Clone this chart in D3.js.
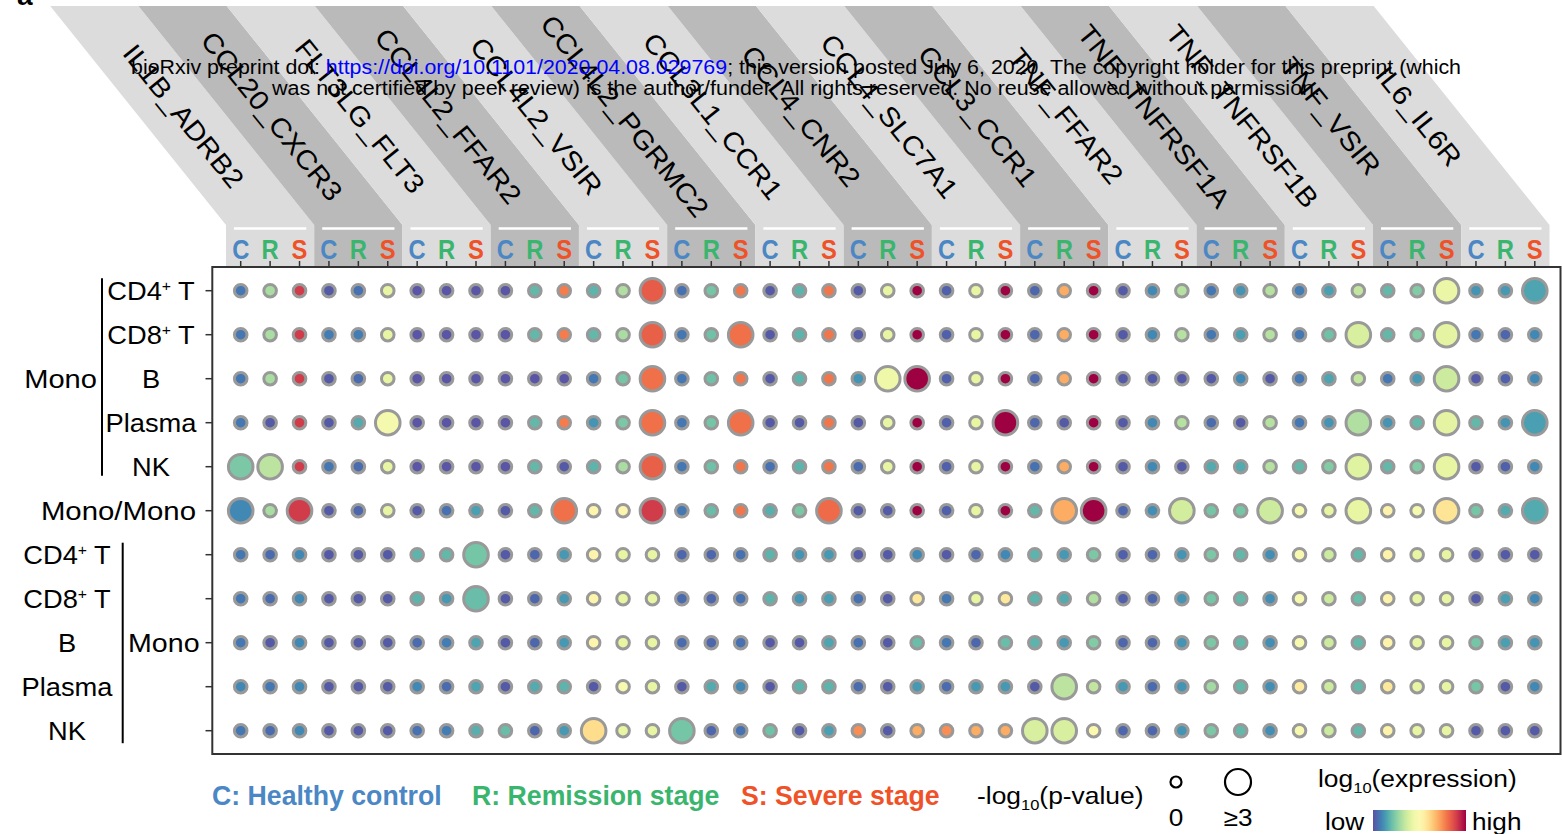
<!DOCTYPE html>
<html>
<head>
<meta charset="utf-8">
<script src="https://cdn.jsdelivr.net/npm/d3@7"></script>
<style>
  body { margin: 0; background: #fff; }
  svg { display: block; font-family: Arial, "Liberation Sans", sans-serif; }
</style>
</head>
<body>
<svg id="chart"></svg>
<script>
const W = 1562, H = 834;

// ligand_receptor pairs (one header band each)
const pairs = ['IL1B_ADRB2','CCL20_CXCR3','FLT3LG_FLT3','CCL4L2_FFAR2','CCL4L2_VSIR',
  'CCL4L2_PGRMC2','CCL3L1_CCR1','CCL4_CNR2','CCL4_SLC7A1','CCL3_CCR1',
  'TNF_FFAR2','TNF_TNFRSF1A','TNF_TNFRSF1B','TNF_VSIR','IL6_IL6R'];
const conds = ['C','R','S'];
const condColors = {C:'#4a87c4', R:'#3ab56e', S:'#ef5228'};

// rows: sender -> receiver
const rowKeys = ['Mono>CD4T','Mono>CD8T','Mono>B','Mono>Plasma','Mono>NK','Mono>Mono',
  'CD4T>Mono','CD8T>Mono','B>Mono','Plasma>Mono','NK>Mono'];
const cellNames = ['CD4|T','CD8|T','B','Plasma','NK'];

// relative log10(expression), 0 = low, 1 = high (45 columns = 15 pairs x C,R,S)
const expr = [
 [0.07,0.3,0.9, 0.02,0.06,0.42, 0.01,0.01,0.01, 0.01,0.19,0.78, 0.18,0.31,0.84, 0.06,0.22,0.79, 0.02,0.18,0.79, 0.02,0.42,1.0, 0.03,0.42,1.0, 0.04,0.7,1.0, 0.02,0.1,0.32, 0.07,0.12,0.32, 0.08,0.14,0.34, 0.19,0.24,0.43, 0.12,0.13,0.15],
 [0.07,0.3,0.9, 0.08,0.08,0.42, 0.01,0.01,0.01, 0.01,0.19,0.78, 0.19,0.3,0.83, 0.07,0.21,0.8, 0.02,0.18,0.79, 0.02,0.42,1.0, 0.03,0.42,1.0, 0.04,0.7,1.0, 0.02,0.1,0.32, 0.07,0.14,0.32, 0.07,0.21,0.38, 0.19,0.24,0.41, 0.07,0.04,0.1],
 [0.07,0.3,0.9, 0.02,0.05,0.42, 0.01,0.01,0.01, 0.01,0.01,0.01, 0.07,0.22,0.8, 0.07,0.21,0.79, 0.02,0.18,0.79, 0.12,0.44,1.0, 0.03,0.42,1.0, 0.04,0.7,1.0, 0.02,0.02,0.02, 0.02,0.1,0.02, 0.07,0.15,0.34, 0.07,0.13,0.36, 0.02,0.03,0.1],
 [0.07,0.02,0.9, 0.02,0.16,0.46, 0.01,0.01,0.01, 0.01,0.19,0.78, 0.12,0.23,0.8, 0.07,0.22,0.8, 0.02,0.02,0.79, 0.02,0.42,1.0, 0.03,0.42,1.0, 0.04,0.02,1.0, 0.02,0.1,0.32, 0.05,0.02,0.32, 0.07,0.12,0.31, 0.12,0.19,0.41, 0.19,0.12,0.14],
 [0.23,0.33,0.9, 0.07,0.05,0.42, 0.01,0.01,0.01, 0.01,0.19,0.02, 0.18,0.3,0.83, 0.07,0.21,0.79, 0.06,0.18,0.79, 0.05,0.42,1.0, 0.03,0.42,1.0, 0.06,0.7,1.0, 0.02,0.1,0.02, 0.16,0.16,0.32, 0.19,0.24,0.4, 0.19,0.24,0.42, 0.02,0.03,0.1],
 [0.1,0.3,0.9, 0.02,0.04,0.42, 0.02,0.06,0.14, 0.02,0.19,0.8, 0.52,0.52,0.9, 0.07,0.2,0.79, 0.17,0.23,0.81, 0.02,0.02,1.0, 0.03,0.42,1.0, 0.19,0.7,1.0, 0.04,0.11,0.37, 0.22,0.22,0.36, 0.47,0.42,0.42, 0.53,0.47,0.58, 0.22,0.16,0.16],
 [0.07,0.05,0.1, 0.02,0.02,0.02, 0.18,0.19,0.22, 0.02,0.04,0.13, 0.52,0.42,0.42, 0.04,0.04,0.06, 0.18,0.12,0.13, 0.02,0.02,0.1, 0.02,0.04,0.1, 0.18,0.13,0.23, 0.03,0.04,0.12, 0.23,0.19,0.11, 0.48,0.36,0.19, 0.53,0.42,0.42, 0.02,0.02,0.02],
 [0.07,0.05,0.1, 0.02,0.02,0.02, 0.18,0.13,0.2, 0.02,0.04,0.13, 0.52,0.42,0.42, 0.05,0.04,0.06, 0.18,0.12,0.14, 0.06,0.02,0.57, 0.07,0.42,0.57, 0.18,0.16,0.31, 0.03,0.04,0.12, 0.22,0.19,0.11, 0.48,0.36,0.2, 0.53,0.42,0.42, 0.02,0.14,0.1],
 [0.07,0.02,0.1, 0.02,0.02,0.02, 0.05,0.08,0.15, 0.02,0.04,0.13, 0.52,0.42,0.42, 0.05,0.04,0.06, 0.02,0.02,0.15, 0.06,0.02,0.2, 0.07,0.04,0.2, 0.18,0.13,0.24, 0.04,0.04,0.12, 0.23,0.19,0.11, 0.48,0.36,0.19, 0.53,0.42,0.42, 0.22,0.14,0.12],
 [0.1,0.07,0.1, 0.02,0.02,0.02, 0.1,0.05,0.15, 0.02,0.16,0.18, 0.02,0.47,0.42, 0.02,0.16,0.1, 0.02,0.18,0.18, 0.05,0.02,0.13, 0.05,0.13,0.13, 0.02,0.33,0.34, 0.13,0.05,0.12, 0.29,0.19,0.11, 0.56,0.36,0.19, 0.57,0.42,0.42, 0.22,0.02,0.1],
 [0.07,0.05,0.1, 0.02,0.02,0.02, 0.06,0.08,0.17, 0.2,0.04,0.13, 0.6,0.42,0.42, 0.22,0.04,0.06, 0.21,0.02,0.14, 0.75,0.02,0.7, 0.75,0.7,0.7, 0.38,0.38,0.5, 0.04,0.04,0.12, 0.23,0.19,0.11, 0.48,0.36,0.19, 0.53,0.42,0.42, 0.02,0.02,0.02]
];

// -log10(p-value), capped at 3
const pval = [
 [0,0,0, 0,0,0, 0,0,0, 0,0,0, 0,0,3, 0,0,0, 0,0,0, 0,0,0, 0,0,0, 0,0,0, 0,0,0, 0,0,0, 0,0,0, 0,0,3, 0,0,3],
 [0,0,0, 0,0,0, 0,0,0, 0,0,0, 0,0,3, 0,0,3, 0,0,0, 0,0,0, 0,0,0, 0,0,0, 0,0,0, 0,0,0, 0,0,3, 0,0,3, 0,0,0],
 [0,0,0, 0,0,0, 0,0,0, 0,0,0, 0,0,3, 0,0,0, 0,0,0, 0,3,3, 0,0,0, 0,0,0, 0,0,0, 0,0,0, 0,0,0, 0,0,3, 0,0,0],
 [0,0,0, 0,0,3, 0,0,0, 0,0,0, 0,0,3, 0,0,3, 0,0,0, 0,0,0, 0,0,3, 0,0,0, 0,0,0, 0,0,0, 0,0,3, 0,0,3, 0,0,3],
 [3,3,0, 0,0,0, 0,0,0, 0,0,0, 0,0,3, 0,0,0, 0,0,0, 0,0,0, 0,0,0, 0,0,0, 0,0,0, 0,0,0, 0,0,3, 0,0,3, 0,0,0],
 [3,0,3, 0,0,0, 0,0,0, 0,0,3, 0,0,3, 0,0,0, 0,0,3, 0,0,0, 0,0,0, 0,3,3, 0,0,3, 0,0,3, 0,0,3, 0,0,3, 0,0,3],
 [0,0,0, 0,0,0, 0,0,3, 0,0,0, 0,0,0, 0,0,0, 0,0,0, 0,0,0, 0,0,0, 0,0,0, 0,0,0, 0,0,0, 0,0,0, 0,0,0, 0,0,0],
 [0,0,0, 0,0,0, 0,0,3, 0,0,0, 0,0,0, 0,0,0, 0,0,0, 0,0,0, 0,0,0, 0,0,0, 0,0,0, 0,0,0, 0,0,0, 0,0,0, 0,0,0],
 [0,0,0, 0,0,0, 0,0,0, 0,0,0, 0,0,0, 0,0,0, 0,0,0, 0,0,0, 0,0,0, 0,0,0, 0,0,0, 0,0,0, 0,0,0, 0,0,0, 0,0,0],
 [0,0,0, 0,0,0, 0,0,0, 0,0,0, 0,0,0, 0,0,0, 0,0,0, 0,0,0, 0,0,0, 0,3,0, 0,0,0, 0,0,0, 0,0,0, 0,0,0, 0,0,0],
 [0,0,0, 0,0,0, 0,0,0, 0,0,0, 3,0,0, 3,0,0, 0,0,0, 0,0,0, 0,0,0, 3,3,0, 0,0,0, 0,0,0, 0,0,0, 0,0,0, 0,0,0]
];

const legendConds = ['C: Healthy control','R: Remission stage','S: Severe stage'];

const svg = d3.select('#chart').attr('width', W).attr('height', H);

// scales
const cols = pairs.flatMap(p => conds.map(c => p + '|' + c));
const xGroup = d3.scaleBand().domain(pairs).range([226, 1549.5]);
const x = d3.scaleBand().domain(cols).range([226, 1549.5]);
const y = d3.scaleBand().domain(rowKeys).range([268.7, 752.7]);
const cx = c => x(c) + x.bandwidth() / 2;
const cy = r => y(r) + y.bandwidth() / 2;
const rScale = d3.scaleLinear().domain([0, 3]).range([6.3, 12.3]).clamp(true);
const color = v => d3.interpolateSpectral(1 - v);

// header bands
const bandTop = 6, slantEnd = 225, slant = 175.8, hb = 266;
const header = svg.append('g');
header.selectAll('path.band')
  .data(pairs)
  .join('path')
  .attr('class', 'band')
  .attr('fill', (d, i) => i % 2 ? '#bababa' : '#dcdcdc')
  .attr('d', d => {
    const x0 = xGroup(d), x1 = x0 + xGroup.bandwidth();
    return `M${x0 - slant},${bandTop}L${x1 - slant},${bandTop}L${x1},${slantEnd}L${x1},${hb}L${x0},${hb}L${x0},${slantEnd}Z`;
  });

header.selectAll('line.sep')
  .data(pairs)
  .join('line')
  .attr('x1', d => xGroup(d) + 8).attr('x2', d => xGroup(d) + xGroup.bandwidth() - 8)
  .attr('y1', 228.5).attr('y2', 228.5)
  .attr('stroke', '#fff').attr('stroke-width', 2.5);

const ang = Math.atan2(slantEnd - bandTop, slant) * 180 / Math.PI;
const labY = 116;
header.selectAll('text.pair')
  .data(pairs)
  .join('text')
  .attr('class', 'pair')
  .attr('text-anchor', 'middle')
  .attr('dominant-baseline', 'central')
  .attr('font-size', 27)
  .attr('fill', '#000')
  .attr('transform', d => {
    const xc = xGroup(d) + xGroup.bandwidth() / 2 - slant + slant * (labY - bandTop) / (slantEnd - bandTop);
    return `translate(${xc + 1},${labY}) rotate(${ang}) scale(1.09,1)`;
  })
  .text(d => d);

header.selectAll('text.cond')
  .data(cols)
  .join('text')
  .attr('class', 'cond')
  .attr('text-anchor', 'middle')
  .attr('font-size', 27)
  .attr('font-weight', 'bold')
  .attr('fill', d => condColors[d.split('|')[1]])
  .attr('transform', d => `translate(${cx(d)},259) scale(0.88,1)`)
  .text(d => d.split('|')[1]);

// frame and ticks
const plot = svg.append('g');
plot.selectAll('line.xt').data(cols).join('line')
  .attr('x1', cx).attr('x2', cx).attr('y1', 261).attr('y2', 267.5)
  .attr('stroke', '#333').attr('stroke-width', 1.5);
plot.selectAll('line.yt').data(rowKeys).join('line')
  .attr('y1', cy).attr('y2', cy).attr('x1', 205.5).attr('x2', 212)
  .attr('stroke', '#333').attr('stroke-width', 1.5);
plot.append('rect')
  .attr('x', 212.3).attr('y', 267).attr('width', 1560.5 - 212.3).attr('height', 754 - 267)
  .attr('fill', 'none').attr('stroke', '#333').attr('stroke-width', 2);

// dots
const cells = [];
rowKeys.forEach((r, i) => cols.forEach((c, j) => cells.push({r, c, e: expr[i][j], p: pval[i][j]})));
plot.selectAll('circle.dot')
  .data(cells)
  .join('circle')
  .attr('class', 'dot')
  .attr('cx', d => cx(d.c))
  .attr('cy', d => cy(d.r))
  .attr('r', d => rScale(d.p))
  .attr('fill', d => color(d.e))
  .attr('stroke', '#999')
  .attr('stroke-width', 3);

// row labels
const rl = svg.append('g').attr('font-size', 26).attr('fill', '#000');
function cellLabel(g, name, xx, yy, anchor, sx) {
  const t = g.append('text').attr('text-anchor', anchor)
    .attr('transform', `translate(${xx},${yy + 9}) scale(${sx || 1.08},1)`);
  const parts = name.split('|');
  if (parts.length === 2) {
    t.append('tspan').text(parts[0]);
    t.append('tspan').attr('font-size', 15).attr('dy', -9).text('+');
    t.append('tspan').attr('dy', 9).text(' ' + parts[1]);
  } else {
    t.text(name);
  }
}
cellNames.forEach((n, i) => cellLabel(rl, n, 151, cy(rowKeys[i]), 'middle', 1.05));
cellNames.forEach((n, i) => cellLabel(rl, n, 67, cy(rowKeys[i + 6]), 'middle', 1.05));
cellLabel(rl, 'Mono', 97, cy(rowKeys[2]), 'end', 1.12);
cellLabel(rl, 'Mono/Mono', 196, cy(rowKeys[5]), 'end', 1.13);
cellLabel(rl, 'Mono', 128, cy(rowKeys[8]), 'start', 1.1);
rl.append('line').attr('x1', 102).attr('x2', 102)
  .attr('y1', cy(rowKeys[0]) - 12.5).attr('y2', cy(rowKeys[4]) + 9)
  .attr('stroke', '#000').attr('stroke-width', 2);
rl.append('line').attr('x1', 122.7).attr('x2', 122.7)
  .attr('y1', cy(rowKeys[6]) - 12).attr('y2', cy(rowKeys[10]) + 12.5)
  .attr('stroke', '#000').attr('stroke-width', 2);

// legend: conditions
const lg = svg.append('g').attr('font-weight', 'bold').attr('font-size', 27.5);
const legX = [212, 472, 741];
legendConds.forEach((t, i) => {
  lg.append('text').attr('transform', `translate(${legX[i]},805) scale(0.97,1)`)
    .attr('fill', condColors[conds[i]]).text(t);
});

// legend: p-value size
const sl = svg.append('g').attr('font-size', 24);
const pt = sl.append('text').attr('transform', 'translate(977,804) scale(1.1,1)');
pt.append('tspan').text('-log');
pt.append('tspan').attr('font-size', 15).attr('dy', 6).text('10');
pt.append('tspan').attr('dy', -6).text('(p-value)');
const sizeLeg = [{v: 0, x: 1176, lab: '0'}, {v: 3, x: 1238, lab: '\u22653'}];
sl.selectAll('circle').data(sizeLeg).join('circle')
  .attr('cx', d => d.x).attr('cy', 782).attr('r', d => d.v ? 13 : 5.5)
  .attr('fill', 'none').attr('stroke', '#000').attr('stroke-width', 2.2);
sl.selectAll('text.sz').data(sizeLeg).join('text')
  .attr('class', 'sz').attr('text-anchor', 'middle')
  .attr('transform', d => `translate(${d.x},826) scale(1.09,1)`)
  .text(d => d.lab);

// legend: expression gradient
const defs = svg.append('defs');
const grad = defs.append('linearGradient').attr('id', 'spec');
d3.range(0, 1.001, 0.05).forEach(t => grad.append('stop')
  .attr('offset', t).attr('stop-color', color(t)));
const et = sl.append('text').attr('transform', 'translate(1318,787) scale(1.1,1)');
et.append('tspan').text('log');
et.append('tspan').attr('font-size', 15).attr('dy', 6).text('10');
et.append('tspan').attr('dy', -6).text('(expression)');
sl.append('text').attr('transform', 'translate(1325,830) scale(1.09,1)').text('low');
sl.append('rect').attr('x', 1373).attr('y', 810).attr('width', 93).attr('height', 21)
  .attr('fill', 'url(#spec)');
sl.append('text').attr('transform', 'translate(1472,830) scale(1.09,1)').text('high');

// panel letter (cut at top, as in the source figure)
svg.append('text').attr('x', 17).attr('y', 5).attr('font-size', 28)
  .attr('font-weight', 'bold').text('a');

// preprint watermark
const wm = svg.append('g').attr('font-size', 20).attr('text-anchor', 'middle').attr('fill', '#000');
const w1 = wm.append('text').attr('x', 796).attr('y', 74)
  .attr('textLength', 1330).attr('lengthAdjust', 'spacingAndGlyphs');
w1.append('tspan').text('bioRxiv preprint doi: ');
w1.append('tspan').attr('fill', '#0000ff').text('https://doi.org/10.1101/2020.04.08.029769');
w1.append('tspan').text('; this version posted July 6, 2020. The copyright holder for this preprint (which');
wm.append('text').attr('x', 796).attr('y', 95)
  .attr('textLength', 1048).attr('lengthAdjust', 'spacingAndGlyphs')
  .text('was not certified by peer review) is the author/funder. All rights reserved. No reuse allowed without permission.');
</script>
</body>
</html>
